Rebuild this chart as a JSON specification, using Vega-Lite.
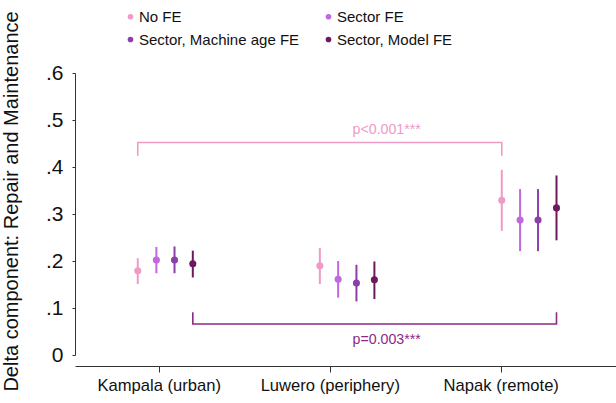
{
  "$schema": "https://vega.github.io/schema/vega-lite/v6.json",
  "autosize": "none",
  "width": 541,
  "height": 282,
  "padding": {"left": 75, "top": 73, "right": 0, "bottom": 48},
  "background": "white",
  "config": {
    "font": "Liberation Sans",
    "view": {"stroke": null}
  },
  "datasets": {
    "estimates": [
      {"region": "Kampala (urban)", "spec": "No FE", "pos": 0.877, "est": 0.179, "lo": 0.151, "hi": 0.206},
      {"region": "Kampala (urban)", "spec": "Sector FE", "pos": 0.986, "est": 0.202, "lo": 0.174, "hi": 0.230},
      {"region": "Kampala (urban)", "spec": "Sector, Machine age FE", "pos": 1.092, "est": 0.202, "lo": 0.174, "hi": 0.231},
      {"region": "Kampala (urban)", "spec": "Sector, Model FE", "pos": 1.199, "est": 0.194, "lo": 0.165, "hi": 0.222},
      {"region": "Luwero (periphery)", "spec": "No FE", "pos": 1.942, "est": 0.190, "lo": 0.151, "hi": 0.228},
      {"region": "Luwero (periphery)", "spec": "Sector FE", "pos": 2.049, "est": 0.161, "lo": 0.122, "hi": 0.200},
      {"region": "Luwero (periphery)", "spec": "Sector, Machine age FE", "pos": 2.156, "est": 0.153, "lo": 0.114, "hi": 0.192},
      {"region": "Luwero (periphery)", "spec": "Sector, Model FE", "pos": 2.261, "est": 0.160, "lo": 0.119, "hi": 0.199},
      {"region": "Napak (remote)", "spec": "No FE", "pos": 3.006, "est": 0.329, "lo": 0.264, "hi": 0.394},
      {"region": "Napak (remote)", "spec": "Sector FE", "pos": 3.113, "est": 0.287, "lo": 0.221, "hi": 0.353},
      {"region": "Napak (remote)", "spec": "Sector, Machine age FE", "pos": 3.218, "est": 0.287, "lo": 0.221, "hi": 0.353},
      {"region": "Napak (remote)", "spec": "Sector, Model FE", "pos": 3.326, "est": 0.313, "lo": 0.244, "hi": 0.382}
    ],
    "bracketNoFE": [
      {"step": 1, "pos": 0.877, "y": 0.424},
      {"step": 2, "pos": 0.877, "y": 0.452},
      {"step": 3, "pos": 3.006, "y": 0.452},
      {"step": 4, "pos": 3.006, "y": 0.424}
    ],
    "bracketModel": [
      {"step": 1, "pos": 1.199, "y": 0.091},
      {"step": 2, "pos": 1.199, "y": 0.066},
      {"step": 3, "pos": 3.326, "y": 0.066},
      {"step": 4, "pos": 3.326, "y": 0.091}
    ],
    "pvalues": [
      {"label": "p<0.001***", "pos": 2.333, "y": 0.478, "group": "nofe"},
      {"label": "p=0.003***", "pos": 2.333, "y": 0.032, "group": "model"}
    ]
  },
  "encoding": {
    "x": {
      "field": "pos",
      "type": "quantitative",
      "scale": {"domain": [0.51, 3.674], "nice": false, "zero": false},
      "axis": {
        "title": null,
        "values": [1, 2, 3],
        "labelExpr": "datum.value == 1 ? 'Kampala (urban)' : datum.value == 2 ? 'Luwero (periphery)' : 'Napak (remote)'",
        "offset": 11,
        "grid": false,
        "domainColor": "#333333",
        "tickColor": "#333333",
        "tickSize": 6,
        "labelFontSize": 16.6,
        "labelColor": "#111111",
        "labelPadding": 5
      }
    }
  },
  "layer": [
    {
      "data": {"name": "estimates"},
      "mark": {"type": "rule", "strokeWidth": 2},
      "encoding": {
        "y": {
          "field": "lo",
          "type": "quantitative",
          "scale": {"domain": [0, 0.6], "nice": false},
          "axis": {
            "title": "Delta component: Repair and Maintenance",
            "values": [0, 0.1, 0.2, 0.3, 0.4, 0.5, 0.6],
            "labelExpr": "datum.value == 0 ? '0' : replace(format(datum.value, '.1f'), '0.', '.')",
            "grid": false,
            "domainColor": "#333333",
            "tickColor": "#333333",
            "tickSize": 3,
            "labelFontSize": 21,
            "labelColor": "#111111",
            "labelPadding": 9,
            "titleFontSize": 20,
            "titleFontWeight": "normal",
            "titleColor": "#111111",
            "titlePadding": 24,
            "titleY": 128
          }
        },
        "y2": {"field": "hi"},
        "color": {
          "field": "spec",
          "type": "nominal",
          "scale": {
            "domain": ["No FE", "Sector FE", "Sector, Machine age FE", "Sector, Model FE"],
            "range": ["#f09ac8", "#c068e0", "#8c3fa9", "#6b1a5e"]
          },
          "legend": {
            "title": null,
            "orient": "none",
            "legendX": 48,
            "legendY": -64,
            "direction": "horizontal",
            "columns": 2,
            "columnPadding": 21,
            "rowPadding": 7,
            "symbolType": "circle",
            "symbolSize": 32,
            "symbolStrokeWidth": 0,
            "labelOffset": 1,
            "labelFontSize": 15,
            "labelColor": "#111111",
            "labelLimit": 300
          }
        }
      }
    },
    {
      "data": {"name": "estimates"},
      "mark": {"type": "point", "filled": true, "size": 50, "opacity": 1, "shape": "circle"},
      "encoding": {
        "y": {"field": "est", "type": "quantitative"},
        "color": {"field": "spec", "type": "nominal"}
      }
    },
    {
      "data": {"name": "bracketNoFE"},
      "mark": {"type": "line", "color": "#f09ac8", "strokeWidth": 1.6},
      "encoding": {
        "y": {"field": "y", "type": "quantitative"},
        "order": {"field": "step", "type": "quantitative"}
      }
    },
    {
      "data": {"name": "bracketModel"},
      "mark": {"type": "line", "color": "#8c2a86", "strokeWidth": 1.6},
      "encoding": {
        "y": {"field": "y", "type": "quantitative"},
        "order": {"field": "step", "type": "quantitative"}
      }
    },
    {
      "data": {"name": "pvalues"},
      "mark": {"type": "text", "fontSize": 14.2, "baseline": "middle", "align": "center"},
      "encoding": {
        "y": {"field": "y", "type": "quantitative"},
        "text": {"field": "label"},
        "color": {
          "condition": {"test": "datum.group == 'nofe'", "value": "#f09ac8"},
          "value": "#8c2a86"
        }
      }
    }
  ]
}
